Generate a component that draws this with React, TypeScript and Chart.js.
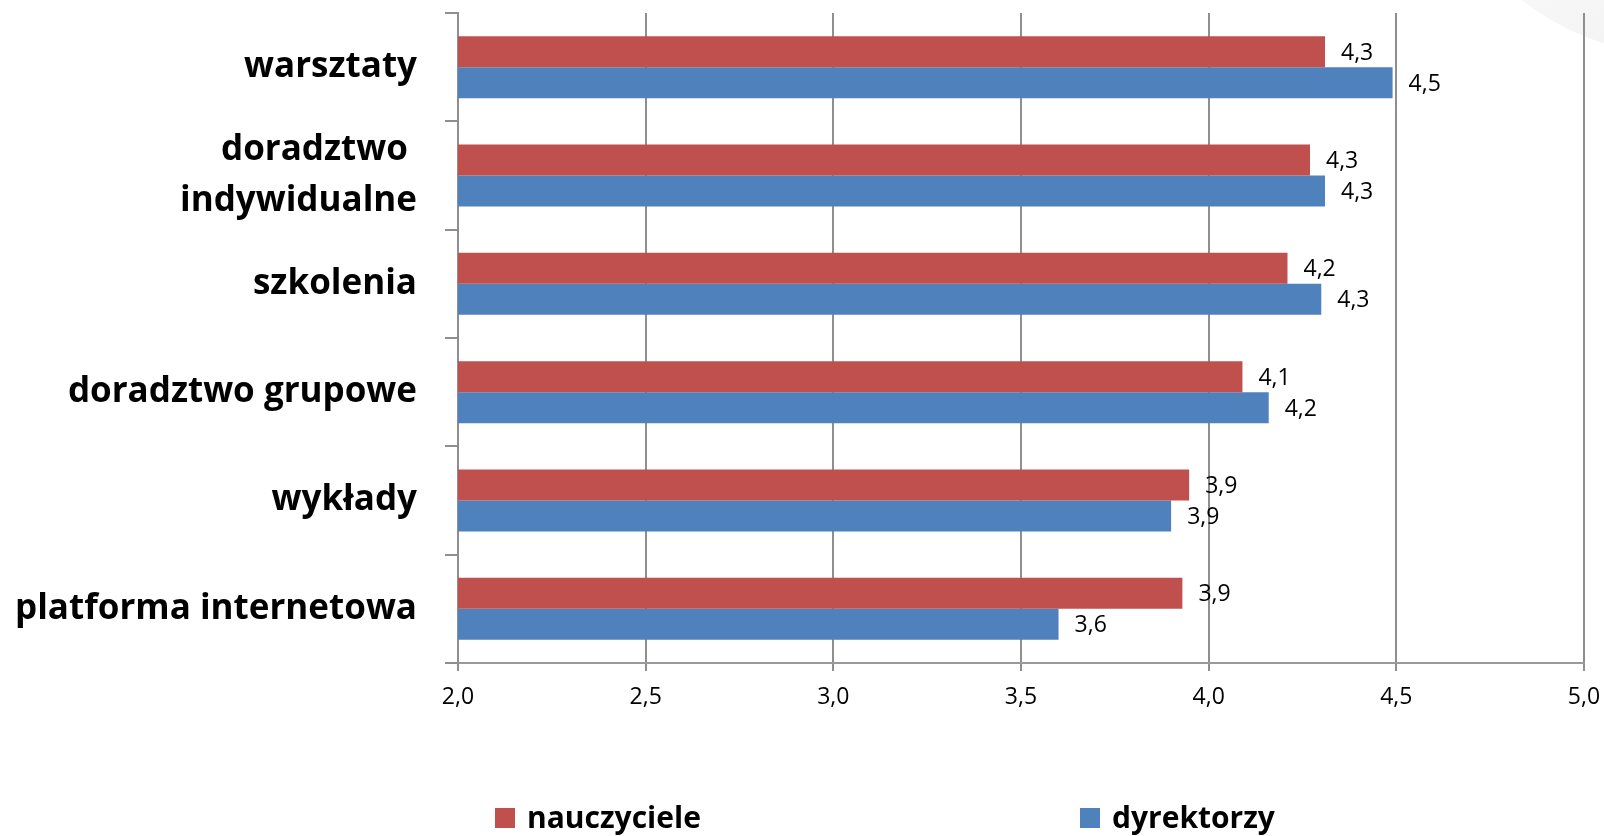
import React, { useEffect, useRef } from "react";
import { Chart, registerables } from "chart.js";

Chart.register(...registerables);

const categories: (string | string[])[] = [
  "warsztaty",
  ["doradztwo ", "indywidualne"],
  "szkolenia",
  "doradztwo grupowe",
  "wykłady",
  "platforma internetowa",
];
const seriesNames = ["nauczyciele", "dyrektorzy"];
const nauczyciele = [4.31, 4.27, 4.21, 4.09, 3.948, 3.93];
const dyrektorzy = [4.49, 4.31, 4.3, 4.16, 3.9, 3.6];
const seriesColors = ["#C0504D", "#4F81BD"];
const axisMin = 2;
const axisMax = 5;
const axisStep = 0.5;

const fmt = (v: number) => v.toFixed(1).replace(".", ",");

const FONT = "'Open Sans', 'Noto Sans', sans-serif";

const valueLabels = {
  id: "valueLabels",
  afterDatasetsDraw(chart: any) {
    const ctx = chart.ctx;
    ctx.save();
    ctx.font = `23px ${FONT}`;
    ctx.fillStyle = "#000";
    ctx.textAlign = "left";
    ctx.textBaseline = "middle";
    chart.data.datasets.forEach((ds: any, di: number) => {
      const meta = chart.getDatasetMeta(di);
      meta.data.forEach((bar: any, i: number) => {
        ctx.fillText(fmt(ds.data[i]), bar.x + 16, bar.y + 1.5);
      });
    });
    ctx.restore();
  },
};

export default function App() {
  const ref = useRef<HTMLCanvasElement>(null);

  useEffect(() => {
    if (!ref.current) return;
    const chart = new Chart(ref.current, {
      type: "bar",
      data: {
        labels: categories,
        datasets: [
          {
            label: seriesNames[0],
            data: nauczyciele,
            backgroundColor: seriesColors[0],
            borderWidth: 0,
          },
          {
            label: seriesNames[1],
            data: dyrektorzy,
            backgroundColor: seriesColors[1],
            borderWidth: 0,
          },
        ],
      },
      options: {
        indexAxis: "y",
        responsive: false,
        animation: false,
        devicePixelRatio: 1,
        datasets: {
          bar: { categoryPercentage: 0.572, barPercentage: 1.0 },
        },
        layout: { padding: { top: 13, left: 0, right: 20, bottom: 0 } },
        plugins: {
          legend: { display: false },
          tooltip: { enabled: false },
        },
        scales: {
          x: {
            min: axisMin,
            max: axisMax,
            ticks: {
              stepSize: axisStep,
              color: "#000",
              font: { family: FONT, size: 23 },
              padding: 13,
              callback: (v: any) => fmt(Number(v)),
            },
            grid: {
              color: "#8f8f8f",
              lineWidth: 2,
              tickLength: 8,
              drawTicks: true,
            },
            border: { display: true, color: "#9a9a9a", width: 2 },
            afterFit: (s: any) => {
              s.height = 836 - 663;
              s.paddingLeft = 0;
              s.paddingRight = 0;
            },
          },
          y: {
            ticks: {
              color: "#000",
              font: { family: FONT, size: 35, weight: "bold", lineHeight: 1.48 },
              padding: 28,
            },
            grid: {
              drawOnChartArea: false,
              drawTicks: true,
              tickLength: 13,
              color: "#8f8f8f",
              lineWidth: 2,
            },
            border: { display: true, color: "#8f8f8f", width: 2 },
            afterFit: (s: any) => {
              s.width = 458;
              s.paddingTop = 0;
              s.paddingBottom = 0;
            },
          },
        },
      },
      plugins: [valueLabels],
    });
    return () => chart.destroy();
  }, []);

  const legendText: React.CSSProperties = {
    position: "absolute",
    top: 796,
    fontFamily: FONT,
    fontWeight: 700,
    fontSize: 30,
    lineHeight: "41px",
    color: "#000",
    whiteSpace: "nowrap",
  };
  const square = (c: string, x: number): React.CSSProperties => ({
    position: "absolute",
    left: x,
    top: 808,
    width: 20,
    height: 20,
    background: c,
  });

  return (
    <div
      style={{
        position: "fixed",
        left: 0,
        top: 0,
        width: 1604,
        height: 836,
        background: "#fff",
        overflow: "hidden",
      }}
    >
      <div
        style={{
          position: "absolute",
          left: 1680 - 255,
          top: -200 - 255,
          width: 510,
          height: 510,
          borderRadius: "50%",
          background: "linear-gradient(135deg, #fbfbfb 40%, #f2f2f2 75%)",
        }}
      />
      <canvas
        ref={ref}
        width={1604}
        height={836}
        style={{ position: "absolute", left: 0, top: 0, width: 1604, height: 836 }}
      />
      <div style={square(seriesColors[0], 495)} />
      <div style={{ ...legendText, left: 527 }}>{seriesNames[0]}</div>
      <div style={square(seriesColors[1], 1080)} />
      <div style={{ ...legendText, left: 1112 }}>{seriesNames[1]}</div>
    </div>
  );
}
